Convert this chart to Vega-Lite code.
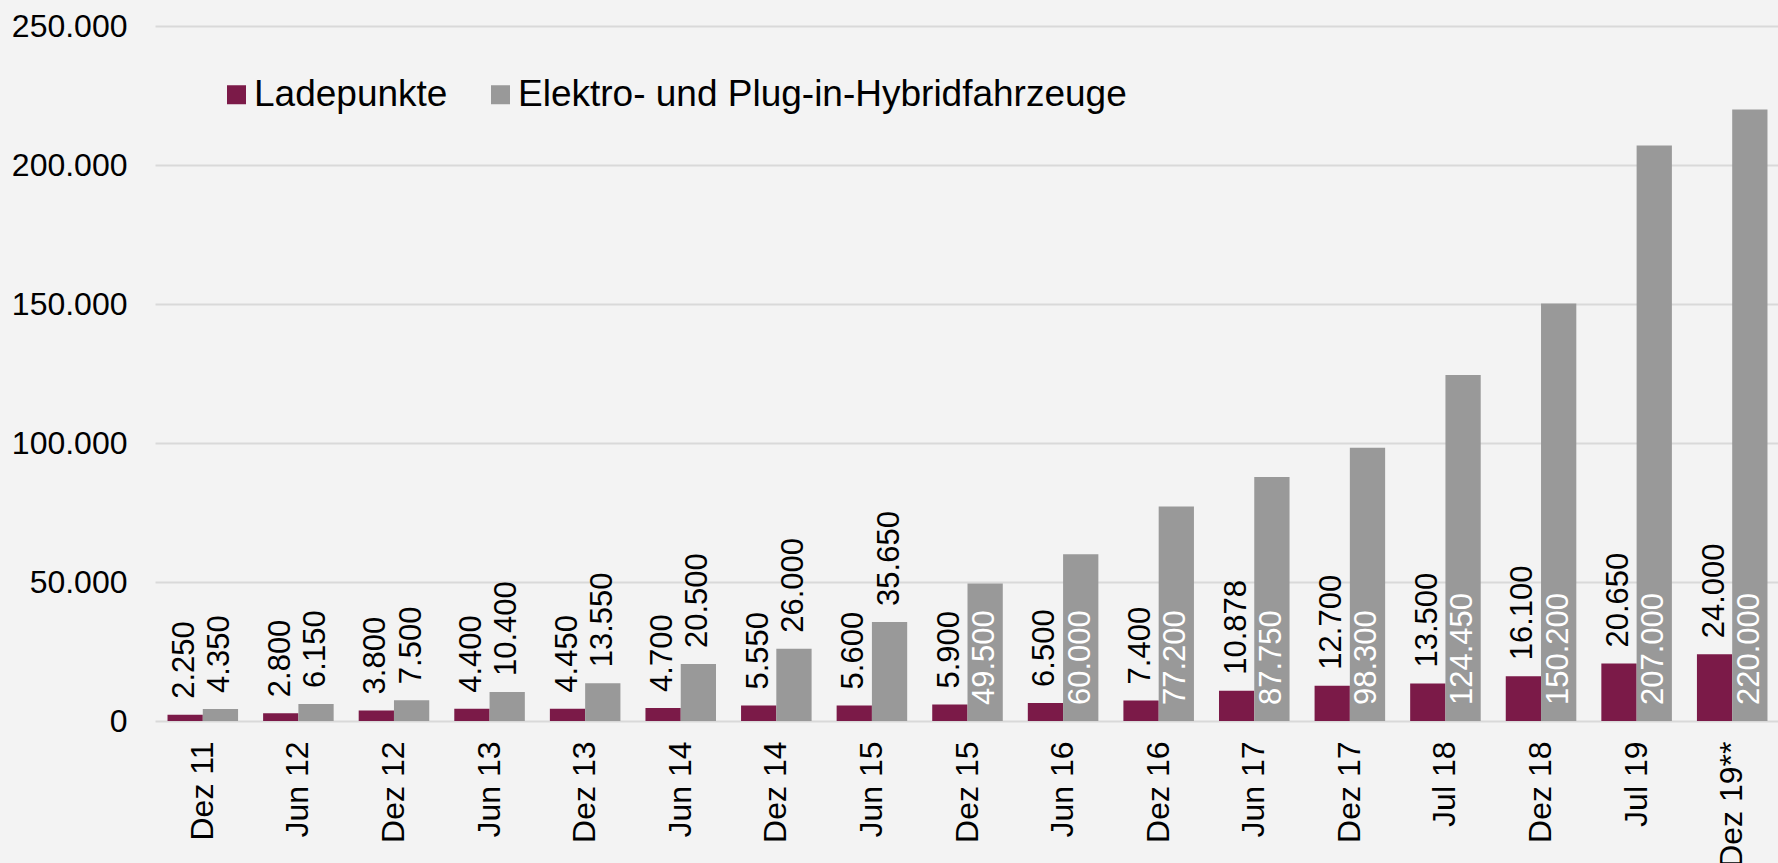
{
  "$schema": "https://vega.github.io/schema/vega-lite/v6.json",
  "autosize": {"type": "none"},
  "padding": {"left": 155, "top": 26, "right": 0, "bottom": 142},
  "width": 1625,
  "height": 695,
  "background": "#F3F3F3",
  "config": {
    "view": {"stroke": null},
    "font": "Liberation Sans",
    "locale": {"number": {"decimal": ",", "thousands": ".", "grouping": [3], "currency": ["", " €"]}}
  },
  "data": {
    "values": [
      {"periode": "Dez 11", "serie": "Ladepunkte", "wert": 2250},
      {"periode": "Dez 11", "serie": "Elektro- und Plug-in-Hybridfahrzeuge", "wert": 4350},
      {"periode": "Jun 12", "serie": "Ladepunkte", "wert": 2800},
      {"periode": "Jun 12", "serie": "Elektro- und Plug-in-Hybridfahrzeuge", "wert": 6150},
      {"periode": "Dez 12", "serie": "Ladepunkte", "wert": 3800},
      {"periode": "Dez 12", "serie": "Elektro- und Plug-in-Hybridfahrzeuge", "wert": 7500},
      {"periode": "Jun 13", "serie": "Ladepunkte", "wert": 4400},
      {"periode": "Jun 13", "serie": "Elektro- und Plug-in-Hybridfahrzeuge", "wert": 10400},
      {"periode": "Dez 13", "serie": "Ladepunkte", "wert": 4450},
      {"periode": "Dez 13", "serie": "Elektro- und Plug-in-Hybridfahrzeuge", "wert": 13550},
      {"periode": "Jun 14", "serie": "Ladepunkte", "wert": 4700},
      {"periode": "Jun 14", "serie": "Elektro- und Plug-in-Hybridfahrzeuge", "wert": 20500},
      {"periode": "Dez 14", "serie": "Ladepunkte", "wert": 5550},
      {"periode": "Dez 14", "serie": "Elektro- und Plug-in-Hybridfahrzeuge", "wert": 26000},
      {"periode": "Jun 15", "serie": "Ladepunkte", "wert": 5600},
      {"periode": "Jun 15", "serie": "Elektro- und Plug-in-Hybridfahrzeuge", "wert": 35650},
      {"periode": "Dez 15", "serie": "Ladepunkte", "wert": 5900},
      {"periode": "Dez 15", "serie": "Elektro- und Plug-in-Hybridfahrzeuge", "wert": 49500},
      {"periode": "Jun 16", "serie": "Ladepunkte", "wert": 6500},
      {"periode": "Jun 16", "serie": "Elektro- und Plug-in-Hybridfahrzeuge", "wert": 60000},
      {"periode": "Dez 16", "serie": "Ladepunkte", "wert": 7400},
      {"periode": "Dez 16", "serie": "Elektro- und Plug-in-Hybridfahrzeuge", "wert": 77200},
      {"periode": "Jun 17", "serie": "Ladepunkte", "wert": 10878},
      {"periode": "Jun 17", "serie": "Elektro- und Plug-in-Hybridfahrzeuge", "wert": 87750},
      {"periode": "Dez 17", "serie": "Ladepunkte", "wert": 12700},
      {"periode": "Dez 17", "serie": "Elektro- und Plug-in-Hybridfahrzeuge", "wert": 98300},
      {"periode": "Jul 18", "serie": "Ladepunkte", "wert": 13500},
      {"periode": "Jul 18", "serie": "Elektro- und Plug-in-Hybridfahrzeuge", "wert": 124450},
      {"periode": "Dez 18", "serie": "Ladepunkte", "wert": 16100},
      {"periode": "Dez 18", "serie": "Elektro- und Plug-in-Hybridfahrzeuge", "wert": 150200},
      {"periode": "Jul 19", "serie": "Ladepunkte", "wert": 20650},
      {"periode": "Jul 19", "serie": "Elektro- und Plug-in-Hybridfahrzeuge", "wert": 207000},
      {"periode": "Dez 19**", "serie": "Ladepunkte", "wert": 24000},
      {"periode": "Dez 19**", "serie": "Elektro- und Plug-in-Hybridfahrzeuge", "wert": 220000}
    ]
  },
  "encoding": {
    "x": {
      "field": "periode",
      "type": "nominal",
      "sort": null,
      "scale": {"paddingInner": 0.262, "paddingOuter": 0.131},
      "axis": {
        "title": null,
        "labelAngle": -90,
        "labelAlign": "right",
        "labelBaseline": "middle",
        "labelFontSize": 32,
        "labelPadding": 20,
        "labelColor": "#000000",
        "labelOverlap": false,
        "labelLimit": 1000,
        "ticks": false,
        "domain": false,
        "grid": false
      }
    },
    "xOffset": {
      "field": "serie",
      "type": "nominal",
      "sort": ["Ladepunkte", "Elektro- und Plug-in-Hybridfahrzeuge"],
      "scale": {"paddingInner": 0, "paddingOuter": 0}
    }
  },
  "layer": [
    {
      "mark": {"type": "bar"},
      "encoding": {
        "y": {
          "field": "wert",
          "type": "quantitative",
          "scale": {"domain": [0, 250000], "nice": false},
          "axis": {
            "title": null,
            "values": [0, 50000, 100000, 150000, 200000, 250000],
            "format": ",d",
            "grid": true,
            "gridColor": "#D9D9D9",
            "gridWidth": 2,
            "domain": false,
            "ticks": false,
            "labelFontSize": 32,
            "labelPadding": 28,
            "labelColor": "#000000"
          }
        },
        "color": {
          "field": "serie",
          "type": "nominal",
          "scale": {
            "domain": ["Ladepunkte", "Elektro- und Plug-in-Hybridfahrzeuge"],
            "range": ["#7B1A48", "#999999"]
          },
          "legend": {
            "orient": "none",
            "legendX": 63,
            "legendY": 50,
            "direction": "horizontal",
            "title": null,
            "symbolType": "square",
            "symbolSize": 361,
            "symbolStrokeWidth": 0,
            "symbolOpacity": 1,
            "labelFontSize": 37,
            "labelOffset": -1,
            "labelColor": "#000000",
            "labelLimit": 1000,
            "columnPadding": 34,
            "padding": 0
          }
        }
      }
    },
    {
      "transform": [{"filter": "!(datum.serie == 'Elektro- und Plug-in-Hybridfahrzeuge' && datum.wert > 40000)"}],
      "mark": {"type": "text", "angle": 270, "align": "left", "baseline": "middle", "dx": 16, "fontSize": 31, "color": "#000000"},
      "encoding": {
        "y": {"field": "wert", "type": "quantitative"},
        "text": {"field": "wert", "type": "quantitative", "format": ",d"}
      }
    },
    {
      "transform": [{"filter": "datum.serie == 'Elektro- und Plug-in-Hybridfahrzeuge' && datum.wert > 40000"}],
      "mark": {"type": "text", "angle": 270, "align": "left", "baseline": "middle", "dx": 16, "fontSize": 31, "color": "#FFFFFF"},
      "encoding": {
        "y": {"datum": 0, "type": "quantitative"},
        "text": {"field": "wert", "type": "quantitative", "format": ",d"}
      }
    }
  ]
}
